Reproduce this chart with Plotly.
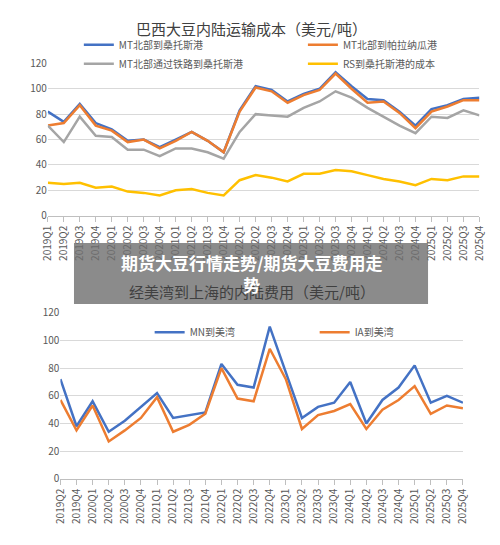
import plotly.graph_objects as go

q_top = [f"{y}Q{q}" for y in range(2019, 2026) for q in range(1, 5)]
mt_santos = [82,74,88,73,68,59,60,54,60,66,59,50,83,102,99,90,96,100,113,102,92,91,82,71,84,87,92,93]
mt_paranagua = [71,73,87,71,67,58,60,53,59,66,59,50,82,101,98,89,95,99,112,100,89,90,81,69,82,86,91,91]
mt_rail = [71,58,78,63,62,52,52,47,53,53,50,45,66,80,79,78,85,90,98,93,85,78,71,65,78,77,83,79]
rs_santos = [26,25,26,22,23,19,18,16,20,21,18,16,28,32,30,27,33,33,36,35,32,29,27,24,29,28,31,31]

q_bot = ["2019Q2","2019Q4"] + [f"{y}Q{q}" for y in range(2020, 2026) for q in range(1, 5)]
mn_gulf = [72,38,56,34,42,52,62,44,46,48,83,68,66,110,77,44,52,55,70,40,57,66,82,55,60,55]
ia_gulf = [57,35,53,27,35,44,59,34,39,47,80,58,56,94,72,36,46,49,54,36,50,57,67,47,53,51]

BLUE, ORANGE, GRAY, YELLOW = "#4472c4", "#ed7d31", "#a5a5a5", "#ffc000"
fig = go.Figure()
for name, ys, c, lg in [("MT北部到桑托斯港", mt_santos, BLUE, "legend"),
                        ("MT北部到帕拉纳瓜港", mt_paranagua, ORANGE, "legend3"),
                        ("MT北部通过铁路到桑托斯港", mt_rail, GRAY, "legend"),
                        ("RS到桑托斯港的成本", rs_santos, YELLOW, "legend3")]:
    fig.add_trace(go.Scatter(x=q_top, y=ys, name=name, mode="lines", line=dict(color=c, width=2.5),
                             xaxis="x", yaxis="y", legend=lg))
for name, ys, c in [("MN到美湾", mn_gulf, BLUE), ("IA到美湾", ia_gulf, ORANGE)]:
    fig.add_trace(go.Scatter(x=q_bot, y=ys, name=name, mode="lines", line=dict(color=c, width=2.5),
                             xaxis="x2", yaxis="y2", legend="legend2"))

ax = dict(showgrid=False, showline=True, linecolor="#bfbfbf", ticks="outside", tickcolor="#bfbfbf",
          tickangle=-90, tickfont=dict(size=10, color="#595959"), fixedrange=True)
ay = dict(range=[0, 120], dtick=20, showgrid=True, gridcolor="#d9d9d9", zeroline=False,
          tickfont=dict(size=10, color="#595959"))
lg = dict(xanchor="left", yanchor="top", orientation="v", bgcolor="rgba(0,0,0,0)",
          font=dict(size=10, color="#595959"), itemwidth=30, tracegroupgap=0)
fig.update_layout(
    width=500, height=545, margin=dict(l=0, r=0, t=0, b=0), paper_bgcolor="white", plot_bgcolor="white",
    font=dict(family="Noto Sans CJK SC"),
    xaxis=dict(domain=[40/500, 485/500], anchor="y", **ax),
    yaxis=dict(domain=[1-213/545, 1-56/545], anchor="x", **ay),
    xaxis2=dict(domain=[53/500, 468/500], anchor="y2", **ax),
    yaxis2=dict(domain=[1-484/545, 1-313/545], anchor="x2", **ay),
    legend=dict(x=72/500, y=1-22/545, **lg),
    legend3=dict(x=303/500, y=1-22/545, **lg),
    legend2=dict(x=145/500, y=1-318/545, entrywidth=120, **{k: v for k, v in lg.items() if k != "orientation"},
                 orientation="h"),
    annotations=[
        dict(text="巴西大豆内陆运输成本（美元/吨）", x=0.5, y=1-20/545, xref="paper", yref="paper",
             yanchor="middle", showarrow=False, font=dict(size=15, color="#404040")),
        dict(text="经美湾到上海的内陆费用（美元/吨）", x=0.5, y=1-291/545, xref="paper", yref="paper",
             yanchor="middle", showarrow=False, font=dict(size=15, color="#404040")),
        dict(text="<b>期货大豆行情走势/期货大豆费用走<br>势</b>", x=250/500, y=1-272/545, xref="paper", yref="paper",
             showarrow=False, font=dict(size=17, color="white"), align="center"),
    ],
    shapes=[dict(type="rect", xref="paper", yref="paper", x0=67/500, x1=432/500, y0=1-304/545, y1=1-241/545,
                 fillcolor="rgba(110,110,110,0.8)", line=dict(width=0), layer="above")],
)
fig.write_html("out.html", config={"displayModeBar": False},
               post_script="document.body.style.margin='0';document.body.style.overflow='hidden';")
